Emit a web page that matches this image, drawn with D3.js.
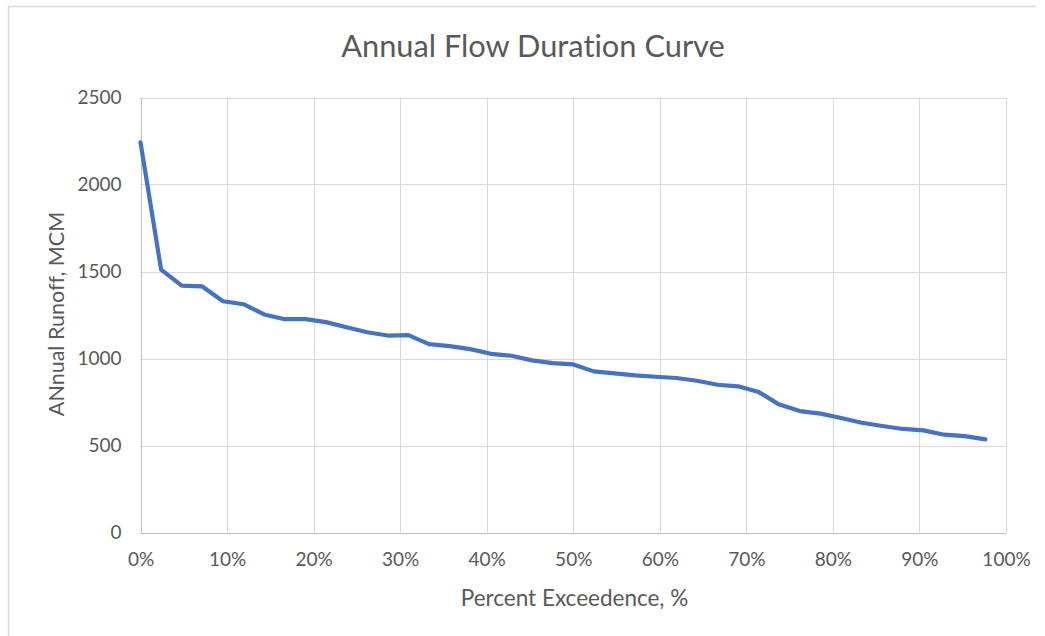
<!DOCTYPE html>
<html>
<head>
<meta charset="utf-8">
<script src="https://cdn.jsdelivr.net/npm/d3@7"></script>
<style>
  html, body { margin: 0; padding: 0; background: #fff; }
  text { font-family: Lato, "Open Sans", sans-serif; fill: #595959; font-variant-ligatures: none; font-feature-settings: "liga" 0, "dlig" 0; }
</style>
</head>
<body>
<svg id="chart" width="1045" height="636"></svg>
<script>
const title = "Annual Flow Duration Curve";
const xTitle = "Percent Exceedence, %";
const yTitle = "ANnual Runoff, MCM";
const xTicks = [0, 0.1, 0.2, 0.3, 0.4, 0.5, 0.6, 0.7, 0.8, 0.9, 1.0];
const yTicks = [0, 500, 1000, 1500, 2000, 2500];
// exceedance positions (fraction) and annual runoff (MCM)
const exceedance = [
  0/42, 1/42, 2/42, 3/42, 4/42, 5/42, 6/42, 7/42, 8/42, 9/42,
  10/42, 11/42, 12/42, 13/42, 14/42, 15/42, 16/42, 17/42, 18/42, 19/42,
  20/42, 21/42, 22/42, 23/42, 24/42, 25/42, 26/42, 27/42, 28/42, 29/42,
  30/42, 31/42, 32/42, 33/42, 34/42, 35/42, 36/42, 37/42, 38/42, 39/42,
  40/42, 41/42
];
const runoff = [
  2242, 1511, 1419, 1414, 1329, 1312, 1253, 1226, 1226, 1209,
  1180, 1151, 1132, 1134, 1083, 1071, 1054, 1027, 1016, 989,
  973, 966, 926, 914, 903, 895, 888, 872, 849, 840,
  807, 735, 698, 683, 658, 631, 612, 595, 587, 562,
  554, 535
];

const svg = d3.select("#chart");
const plot = { left: 140.5, right: 1006, top: 97.5, bottom: 532.5 };

// chart border
svg.append("path")
  .attr("d", "M8.5,640 L8.5,6.5 L1036,6.5")
  .attr("fill", "none").attr("stroke", "#d9d9d9").attr("stroke-width", 1.5);

const x = d3.scaleLinear().domain([0, 1]).range([plot.left, plot.right]);
const y = d3.scaleLinear().domain([0, 2500]).range([plot.bottom, plot.top]);

// horizontal gridlines
svg.append("g").selectAll("line").data(yTicks.filter(d => d > 0)).join("line")
  .attr("x1", plot.left).attr("x2", plot.right)
  .attr("y1", d => Math.round(y(d)) + 0.5).attr("y2", d => Math.round(y(d)) + 0.5)
  .attr("stroke", "#d9d9d9").attr("stroke-width", 1);
// vertical gridlines
svg.append("g").selectAll("line").data(xTicks).join("line")
  .attr("x1", d => Math.round(x(d)) + 0.5).attr("x2", d => Math.round(x(d)) + 0.5)
  .attr("y1", plot.top).attr("y2", plot.bottom)
  .attr("stroke", d => d === 0 ? "#bfbfbf" : "#d9d9d9").attr("stroke-width", 1);
// bottom axis line
svg.append("line")
  .attr("x1", plot.left).attr("x2", plot.right)
  .attr("y1", Math.round(y(0)) + 0.5).attr("y2", Math.round(y(0)) + 0.5)
  .attr("stroke", "#bfbfbf").attr("stroke-width", 1.2);

// y axis labels
const yAxis = d3.axisLeft(y).tickValues(yTicks).tickSize(0).tickPadding(19).tickFormat(d3.format("d"));
const gy = svg.append("g").attr("transform", `translate(${plot.left},0)`).call(yAxis);
gy.select(".domain").remove();
gy.selectAll("text").style("font-size", "19px").attr("fill", "#595959").attr("font-family", "Lato");

// x axis labels
const xAxis = d3.axisBottom(x).tickValues(xTicks).tickSize(0).tickPadding(20).tickFormat(d3.format(".0%"));
const gx = svg.append("g").attr("transform", `translate(0,${plot.bottom})`).call(xAxis);
gx.select(".domain").remove();
gx.selectAll("text").style("font-size", "19px").attr("fill", "#595959").attr("font-family", "Lato");

// line
const data = exceedance.map((e, i) => ({ e, v: runoff[i] }));
svg.append("path").datum(data)
  .attr("fill", "none").attr("stroke", "#4472C4").attr("stroke-width", 4.2)
  .attr("stroke-linejoin", "round").attr("stroke-linecap", "round")
  .attr("d", d3.line().x(d => x(d.e)).y(d => y(d.v)));

// titles
svg.append("text").attr("x", 533).attr("y", 57).attr("text-anchor", "middle")
  .style("font-size", "30.8px").text(title);
svg.append("text").attr("x", 574.5).attr("y", 606).attr("text-anchor", "middle")
  .style("font-size", "22.5px").text(xTitle);
svg.append("text").attr("transform", `translate(64,314) rotate(-90)`).attr("text-anchor", "middle")
  .style("font-size", "21.5px").text(yTitle);
</script>
</body>
</html>
